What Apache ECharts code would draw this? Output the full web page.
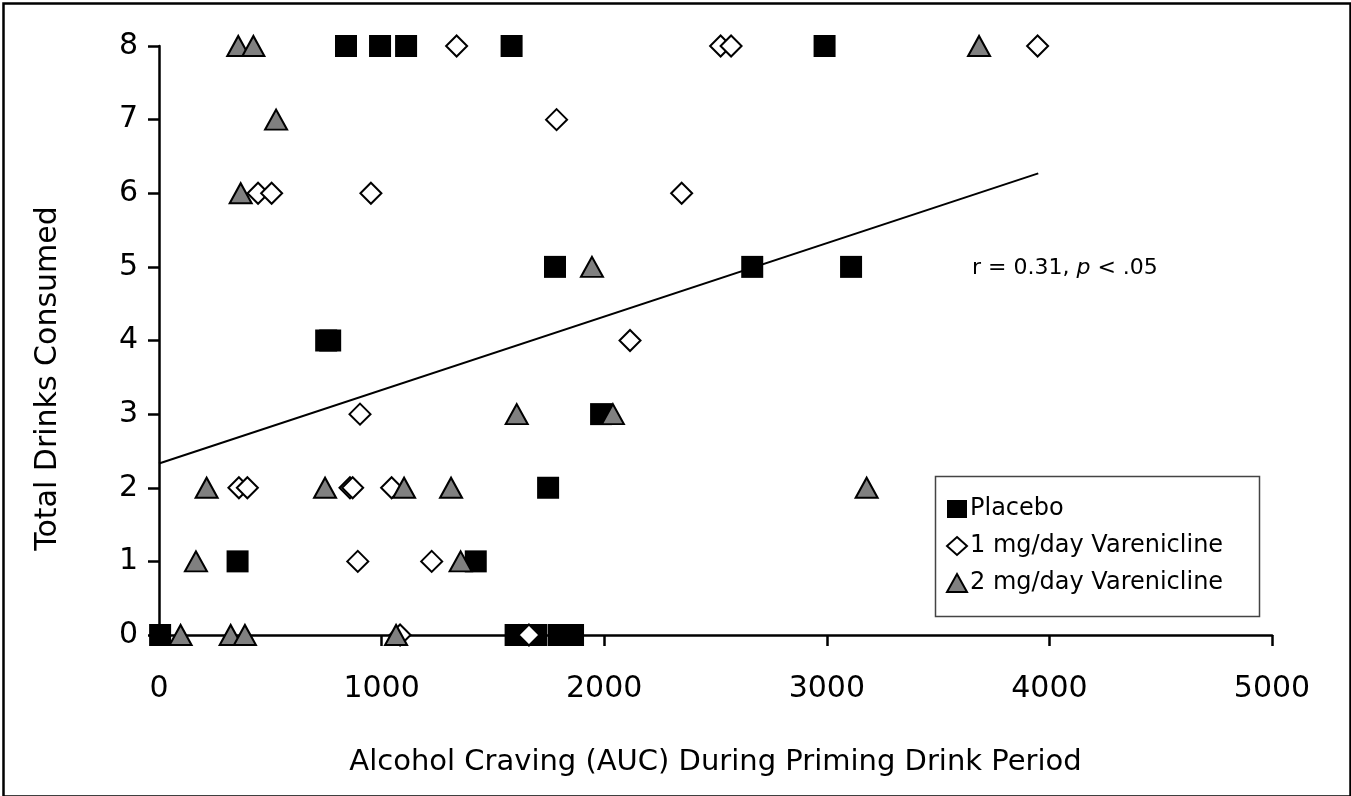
<!DOCTYPE html>
<html>
<head>
<meta charset="utf-8">
<script src="https://cdn.jsdelivr.net/npm/echarts@6/dist/echarts.min.js"></script>
<style>
html,body{margin:0;padding:0;background:#fff;}
#chart{width:1351px;height:796px;}
</style>
</head>
<body>
<div id="chart"></div>
<script>
// ---- data ----
const xTicks = [0, 1000, 2000, 3000, 4000, 5000];
const yTicks = [0, 1, 2, 3, 4, 5, 6, 7, 8];
const seriesNames = ["Placebo", "1 mg/day Varenicline", "2 mg/day Varenicline"];

const placeboX = [840, 993, 1110, 1584, 2990, 1779, 2665, 3109, 751, 769, 1986, 1748, 353, 1423, 5, 1602, 1694, 1795, 1860];
const placeboY = [8, 8, 8, 8, 8, 5, 5, 5, 4, 4, 3, 2, 1, 1, 0, 0, 0, 0, 0];

const mg1X = [1337, 2523, 2570, 3947, 1786, 445, 506, 952, 2348, 2116, 903, 359, 397, 858, 870, 1045, 893, 1225, 1083, 1662];
const mg1Y = [8, 8, 8, 8, 7, 6, 6, 6, 6, 4, 3, 2, 2, 2, 2, 2, 1, 1, 0, 0];

const mg2X = [356, 424, 3684, 526, 367, 1945, 1607, 2039, 214, 746, 1101, 1312, 3179, 166, 1355, 97, 322, 386, 1065];
const mg2Y = [8, 8, 8, 7, 6, 5, 3, 3, 2, 2, 2, 2, 2, 1, 1, 0, 0, 0, 0];

const trendX = [0, 3950];
const trendY = [2.33, 6.27];

const xTitle = "Alcohol Craving (AUC) During Priming Drink Period";
const yTitle = "Total Drinks Consumed";
const statText = ["r = 0.31, ", "p", " < .05"];

// ---- build ----
const zip = (xs, ys) => xs.map((x, i) => [x, ys[i]]);
const FONT = "'DejaVu Sans', sans-serif";

const chart = echarts.init(document.getElementById('chart'), null, {renderer: 'canvas'});
chart.setOption({
  animation: false,
  backgroundColor: '#fff',
  grid: {left: 159, right: 79, top: 46, bottom: 161, containLabel: false},
  xAxis: {
    type: 'value', min: xTicks[0], max: xTicks[xTicks.length - 1], interval: 1000,
    name: xTitle, nameLocation: 'middle', nameGap: 113,
    nameTextStyle: {fontFamily: FONT, fontSize: 29, color: '#000'},
    axisLine: {show: true, onZero: false, lineStyle: {color: '#000', width: 2.5}},
    axisTick: {show: true, inside: false, length: 11, lineStyle: {color: '#000', width: 2.5}},
    axisLabel: {fontFamily: FONT, fontSize: 30, color: '#000', margin: 39, formatter: v => String(v)},
    splitLine: {show: false}
  },
  yAxis: {
    type: 'value', min: yTicks[0], max: yTicks[yTicks.length - 1], interval: 1,
    name: yTitle, nameLocation: 'middle', nameGap: 96, nameRotate: 90,
    nameTextStyle: {fontFamily: FONT, fontSize: 30, color: '#000', padding: [0, 76, 0, 0]},
    axisLine: {show: true, onZero: false, lineStyle: {color: '#000', width: 2.5}},
    axisTick: {show: true, inside: false, length: 11, lineStyle: {color: '#000', width: 2.5}},
    axisLabel: {fontFamily: FONT, fontSize: 30, color: '#000', margin: 21, formatter: v => String(v)},
    splitLine: {show: false}
  },
  legend: {
    data: seriesNames,
    orient: 'vertical', left: 946, top: 497,
    itemWidth: 20, itemHeight: 18, itemGap: 13,
    padding: 0,
    textStyle: {fontFamily: FONT, fontSize: 24, color: '#000', lineHeight: 24, padding: [0, 0, 0, -2]}
  },
  graphic: [
    {type: 'rect', left: 933, top: 474, shape: {width: 324, height: 140}, style: {fill: 'none', stroke: '#444', lineWidth: 1.5}, z: 0},
    {type: 'rect', left: 1, top: 1, shape: {width: 1347, height: 793}, style: {fill: 'none', stroke: '#000', lineWidth: 2.5}, z: 0},
    {type: 'text', left: 972, top: 257, style: {
      text: '{n|' + statText[0] + '}{i|' + statText[1] + '}{n|' + statText[2] + '}',
      rich: {
        n: {fontFamily: FONT, fontSize: 22, fill: '#000'},
        i: {fontFamily: FONT, fontSize: 22, fontStyle: 'italic', fill: '#000'}
      }
    }}
  ],
  series: [
    {
      name: 'trend', type: 'line', data: zip(trendX, trendY), symbol: 'none',
      lineStyle: {color: '#000', width: 2}, z: 1, silent: true
    },
    {
      name: seriesNames[0], type: 'scatter', data: zip(placeboX, placeboY),
      symbol: 'rect', symbolSize: 22,
      itemStyle: {color: '#000', borderColor: '#000', borderWidth: 0, opacity: 1}, z: 2
    },
    {
      name: seriesNames[1], type: 'scatter', data: zip(mg1X, mg1Y),
      symbol: 'diamond', symbolSize: 21,
      itemStyle: {color: '#fff', borderColor: '#000', borderWidth: 2, opacity: 1}, z: 3
    },
    {
      name: seriesNames[2], type: 'scatter', data: zip(mg2X, mg2Y),
      symbol: 'triangle', symbolSize: [22, 20],
      itemStyle: {color: '#808080', borderColor: '#000', borderWidth: 2, opacity: 1}, z: 4
    }
  ]
});
</script>
</body>
</html>
